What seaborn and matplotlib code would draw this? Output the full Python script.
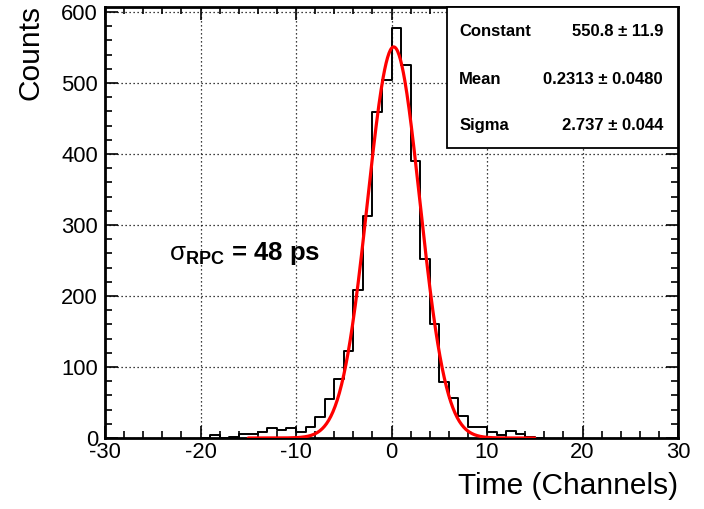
import numpy as np
import pandas as pd
import matplotlib
matplotlib.use("Agg")
import matplotlib.pyplot as plt
import seaborn as sns
from matplotlib.patches import Rectangle

# ---------------- data ----------------
bin_left_edges = list(range(-20, 16))          # bin width = 1 channel
counts = [0, 4, 0, 1, 5, 6, 8, 14, 11, 14,
          9, 16, 29, 55, 83, 122, 208, 312, 459, 504,
          578, 526, 390, 252, 160, 79, 56, 31, 16, 16,
          9, 4, 10, 5, 1, 0]

fit_constant = 550.8
fit_mean = 0.2313
fit_sigma = 2.737
fit_range = (-15, 15)

stat_names = ["Constant", "Mean", "Sigma"]
stat_values = ["550.8 \u00b1 11.9", "0.2313 \u00b1 0.0480", "2.737 \u00b1 0.044"]

x_ticks = [-30, -20, -10, 0, 10, 20, 30]
y_ticks = [0, 100, 200, 300, 400, 500, 600]

# ---------------- style ----------------
sns.set_style("white")
plt.rcParams["font.family"] = ["Liberation Sans", "DejaVu Sans"]
plt.rcParams["mathtext.fontset"] = "custom"
plt.rcParams["mathtext.rm"] = "Liberation Sans"
plt.rcParams["mathtext.bf"] = "Liberation Sans:bold"
plt.rcParams["mathtext.it"] = "Liberation Sans:italic"
plt.rcParams["mathtext.sf"] = "Liberation Sans"
plt.rcParams["axes.unicode_minus"] = False
for k in ["text.color", "axes.labelcolor", "xtick.color", "ytick.color"]:
    plt.rcParams[k] = "black"

fig = plt.figure(figsize=(7.04, 5.09), dpi=100)
ax = fig.add_axes([105 / 704, 1 - 438 / 509, 573 / 704, 431 / 509])

df = pd.DataFrame({"center": np.array(bin_left_edges) + 0.5, "count": counts})
edges = list(bin_left_edges) + [bin_left_edges[-1] + 1]
sns.histplot(data=df, x="center", weights="count", bins=edges,
             element="step", fill=False, color="black", linewidth=1.4, ax=ax)

xs = np.linspace(fit_range[0], fit_range[1], 400)
ys = fit_constant * np.exp(-0.5 * ((xs - fit_mean) / fit_sigma) ** 2)
sns.lineplot(x=xs, y=ys, color="red", linewidth=2.3, ax=ax, zorder=4)

ax.set_xlim(-30, 30)
ax.set_ylim(0, 607)
ax.set_xticks(x_ticks)
ax.set_yticks(y_ticks)
ax.set_xticks(np.arange(-30, 31, 2), minor=True)
ax.set_yticks(np.arange(0, 607, 20), minor=True)
ax.tick_params(which="both", direction="in", top=True, right=True,
               bottom=True, left=True, color="black", width=1.2)
ax.tick_params(which="major", length=9, labelsize=15.8)
ax.tick_params(which="minor", length=5)
ax.tick_params(axis="x", which="major", pad=3)
ax.tick_params(axis="y", which="major", pad=5)

ax.grid(True, which="major", color="black", linestyle=(0, (1, 2.2)), linewidth=0.9)
ax.set_axisbelow(True)
for sp in ax.spines.values():
    sp.set_linewidth(2)
    sp.set_color("black")

ax.set_xlabel("Time (Channels)", fontsize=21.5, loc="right")
ax.xaxis.set_label_coords(1.0, -0.08)
ax.set_ylabel("Counts", fontsize=21.5, rotation=90, ha="center", va="top",
              rotation_mode="default")
ax.yaxis.set_label_coords((30 - 105) / 573, 1.0 + 2 / 431)

# stat box
ax.add_patch(Rectangle((0.597, 0.673), 0.403, 0.327, transform=ax.transAxes,
                       facecolor="white", edgecolor="black", linewidth=1.3,
                       zorder=5, clip_on=False))
row_y = [0.942, 0.831, 0.726]
for name, val, yy in zip(stat_names, stat_values, row_y):
    ax.text(0.618, yy, name, transform=ax.transAxes, fontsize=12,
            fontweight="bold", ha="left", va="center", zorder=6)
    ax.text(0.974, yy, val, transform=ax.transAxes, fontsize=12,
            fontweight="bold", ha="right", va="center", zorder=6)

ax.text(-23.3, 250, r"$\mathrm{\sigma}_{\mathbf{RPC}}$ = 48 ps", fontsize=18.5,
        fontweight="bold", ha="left", va="baseline")

fig.savefig("out.png", dpi=100)
